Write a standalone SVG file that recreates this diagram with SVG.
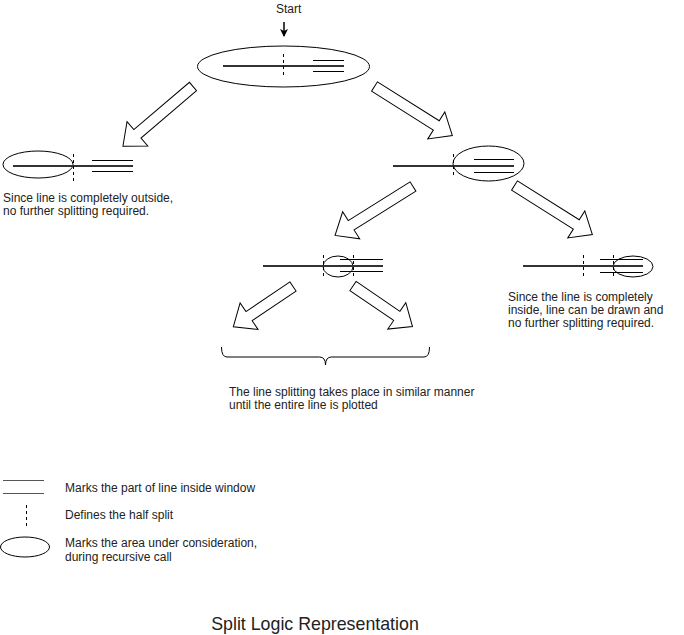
<svg xmlns="http://www.w3.org/2000/svg" width="684" height="635" viewBox="0 0 684 635">
<style>
text{font-family:"Liberation Sans",Arial,sans-serif;font-size:12px;fill:#222}
.main{stroke:#333;stroke-width:2;fill:none}
.win{stroke:#000;stroke-width:1;fill:none}
.dash{stroke:#000;stroke-width:1;stroke-dasharray:3,3;fill:none}
.ell{stroke:#000;stroke-width:1;fill:none}
.blk{fill:#fff;stroke:#000;stroke-width:1;stroke-linejoin:miter}
</style>
<defs>
<path id="a92" d="M0,-5.5 H73 V-16 L92,0 L73,16 V5.5 H0 Z"/>
<path id="a72" d="M0,-5.5 H53 V-16 L72,0 L53,16 V5.5 H0 Z"/>
<marker id="ah" markerWidth="8" markerHeight="8" refX="7" refY="4" orient="auto" markerUnits="userSpaceOnUse">
<path d="M0,0 L8,4 L0,8 L2,4 Z" fill="#000"/>
</marker>
</defs>
<rect width="684" height="635" fill="#fff"/>

<g id="start">
<text x="276" y="13">Start</text>
</g>

<g id="node-top">
<ellipse class="ell" cx="283.5" cy="66.5" rx="86" ry="20.5"/>
<line class="main" x1="223" y1="66" x2="344" y2="66"/>
<line class="win" x1="313" y1="60.5" x2="344" y2="60.5"/>
<line class="win" x1="313" y1="71.5" x2="344" y2="71.5"/>
<line class="dash" x1="283.5" y1="54" x2="283.5" y2="78"/>
</g>

<g id="node-left">
<ellipse class="ell" cx="38" cy="164.5" rx="35" ry="13.5"/>
<line class="main" x1="13" y1="166" x2="133" y2="166"/>
<line class="win" x1="92" y1="160.5" x2="133" y2="160.5"/>
<line class="win" x1="92" y1="171.5" x2="133" y2="171.5"/>
<line class="dash" x1="73.5" y1="154" x2="73.5" y2="182"/>
<text x="3" y="202">Since line is completely outside,</text>
<text x="3" y="215">no further splitting required.</text>
</g>

<g id="node-right">
<ellipse class="ell" cx="488.5" cy="163.5" rx="35.5" ry="17.5"/>
<line class="main" x1="393" y1="166" x2="514" y2="166"/>
<line class="win" x1="474" y1="159.5" x2="514" y2="159.5"/>
<line class="win" x1="474" y1="172.5" x2="514" y2="172.5"/>
<line class="dash" x1="453.5" y1="154" x2="453.5" y2="178"/>
</g>

<g id="node-mid">
<ellipse class="ell" cx="338" cy="266.5" rx="15" ry="10.5"/>
<line class="main" x1="263" y1="266" x2="383" y2="266"/>
<line class="win" x1="340" y1="259.5" x2="383" y2="259.5"/>
<line class="win" x1="340" y1="271.5" x2="383" y2="271.5"/>
<line class="dash" x1="323.5" y1="255" x2="323.5" y2="279"/>
<line class="dash" x1="353.5" y1="255" x2="353.5" y2="279"/>
</g>

<g id="node-far-right">
<ellipse class="ell" cx="633" cy="266.5" rx="20" ry="10.5"/>
<line class="main" x1="523" y1="266" x2="643" y2="266"/>
<line class="win" x1="600" y1="259.5" x2="643" y2="259.5"/>
<line class="win" x1="600" y1="272.5" x2="643" y2="272.5"/>
<line class="dash" x1="583.5" y1="255" x2="583.5" y2="279"/>
<line class="dash" x1="613.5" y1="255" x2="613.5" y2="279"/>
<text x="508" y="301">Since the line is completely</text>
<text x="508" y="314">inside, line can be drawn and</text>
<text x="508" y="327">no further splitting required.</text>
</g>

<g id="continuation">
<path d="M221.5,347 Q221.5,357 227,357 H319.5 Q325.5,357 325.5,365 Q325.5,357 331.5,357 H424 Q429.5,357 429.5,347" fill="none" stroke="#000" stroke-width="1"/>
<text x="229" y="396">The line splitting takes place in similar manner</text>
<text x="229" y="409">until the entire line is plotted</text>
</g>

<g id="legend">
<line x1="3" y1="480.5" x2="44" y2="480.5" stroke="#555" stroke-width="1.2"/>
<line x1="3" y1="493.5" x2="44" y2="493.5" stroke="#555" stroke-width="1.2"/>
<text x="65" y="492">Marks the part of line inside window</text>
<line class="dash" x1="26.5" y1="505" x2="26.5" y2="527"/>
<text x="65" y="519">Defines the half split</text>
<ellipse class="ell" cx="25" cy="547" rx="24.5" ry="10"/>
<text x="65" y="547">Marks the area under consideration,</text>
<text x="65" y="561">during recursive call</text>
</g>

<g id="title">
<text x="315" y="630" text-anchor="middle" style="font-size:17.8px">Split Logic Representation</text>
</g>

<g id="connectors">
<line x1="284" y1="22" x2="284" y2="36" stroke="#000" stroke-width="1.5" marker-end="url(#ah)"/>
<use href="#a92" class="blk" transform="translate(193,86.5) rotate(139.6)"/>
<use href="#a92" class="blk" transform="translate(374.5,86.5) rotate(32.2)"/>
<use href="#a92" class="blk" transform="translate(413,186.5) rotate(147.9)"/>
<use href="#a92" class="blk" transform="translate(514.5,185.5) rotate(32.2)"/>
<use href="#a72" class="blk" transform="translate(293,286.5) rotate(146)"/>
<use href="#a72" class="blk" transform="translate(353,286) rotate(34.3)"/>
</g>
</svg>
